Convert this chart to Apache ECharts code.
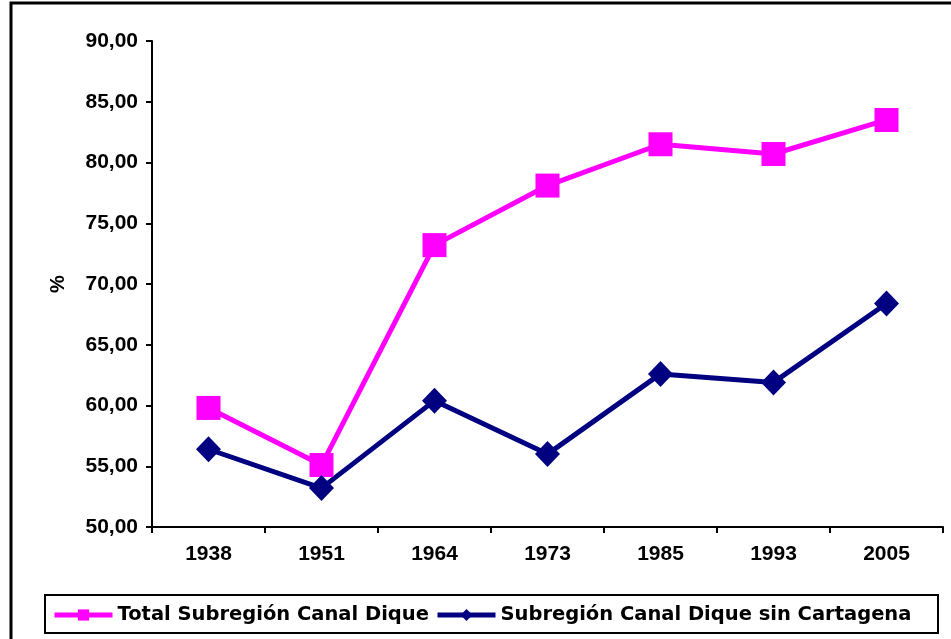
<!DOCTYPE html>
<html><head><meta charset="utf-8">
<script src="https://cdn.jsdelivr.net/npm/echarts@6/dist/echarts.min.js"></script>
<style>html,body{margin:0;padding:0;background:#fff}#c{width:951px;height:639px}</style>
</head><body><div id="c"></div>
<script>
const years = ['1938','1951','1964','1973','1985','1993','2005'];
const totalSub = [59.8, 55.1, 73.2, 78.1, 81.5, 80.7, 83.5];
const sinCartagena = [56.4, 53.2, 60.4, 56.0, 62.6, 61.9, 68.4];
const seriesNames = ['Total Subregión Canal Dique', 'Subregión Canal Dique sin Cartagena'];
const yTicks = {min: 50, max: 90, interval: 5};

const chart = echarts.init(document.getElementById('c'));
const font = '"Liberation Sans", Arial, sans-serif';
const legendText = {fontFamily: '"DejaVu Sans", sans-serif', fontWeight: 'bold', fontSize: 19.5, color: '#000'};
chart.setOption({
  backgroundColor: '#fff',
  animation: false,
  graphic: [
    {type: 'rect', shape: {x: 11, y: 3, width: 960, height: 660},
     style: {fill: 'none', stroke: '#000', lineWidth: 3}, silent: true, z: 100},
    {type: 'rect', shape: {x: 45, y: 595, width: 893, height: 38},
     style: {fill: 'none', stroke: '#000', lineWidth: 2}, silent: true, z: 100}
  ],
  grid: {left: 152, top: 41, width: 791, height: 486, containLabel: false},
  legend: [
    {left: 46, top: 599, padding: [6, 6, 6, 6], itemWidth: 58, itemHeight: 14, itemGap: 8,
     lineStyle: {width: 5}, textStyle: legendText, data: [seriesNames[0]]},
    {left: 429, top: 599, padding: [6, 6, 6, 6], itemWidth: 58, itemHeight: 15, itemGap: 8,
     lineStyle: {width: 5}, textStyle: legendText, data: [seriesNames[1]]}
  ],
  xAxis: {
    type: 'category', data: years, boundaryGap: true,
    axisLine: {lineStyle: {color: '#000', width: 2}},
    axisTick: {show: true, length: 6, lineStyle: {color: '#000', width: 2}},
    axisLabel: {fontFamily: font, fontWeight: 'bold', fontSize: 21, color: '#000', margin: 17}
  },
  yAxis: {
    type: 'value', min: yTicks.min, max: yTicks.max, interval: yTicks.interval,
    name: '%', nameLocation: 'middle', nameGap: 84, nameRotate: 90,
    nameTextStyle: {fontFamily: font, fontWeight: 'bold', fontSize: 20, color: '#000'},
    splitLine: {show: false},
    axisLine: {show: true, lineStyle: {color: '#000', width: 2}},
    axisTick: {show: true, length: 6, lineStyle: {color: '#000', width: 2}},
    axisLabel: {fontFamily: font, fontWeight: 'bold', fontSize: 21, color: '#000', margin: 14,
      formatter: v => v.toFixed(2).replace('.', ',')}
  },
  series: [
    {
      name: seriesNames[0], type: 'line', data: totalSub,
      symbol: 'rect', symbolSize: 24,
      lineStyle: {color: '#ff00ff', width: 5},
      itemStyle: {color: '#ff00ff'}
    },
    {
      name: seriesNames[1], type: 'line', data: sinCartagena,
      symbol: 'diamond', symbolSize: [25, 26],
      lineStyle: {color: '#000080', width: 5},
      itemStyle: {color: '#000080'}
    }
  ]
});
</script></body></html>
